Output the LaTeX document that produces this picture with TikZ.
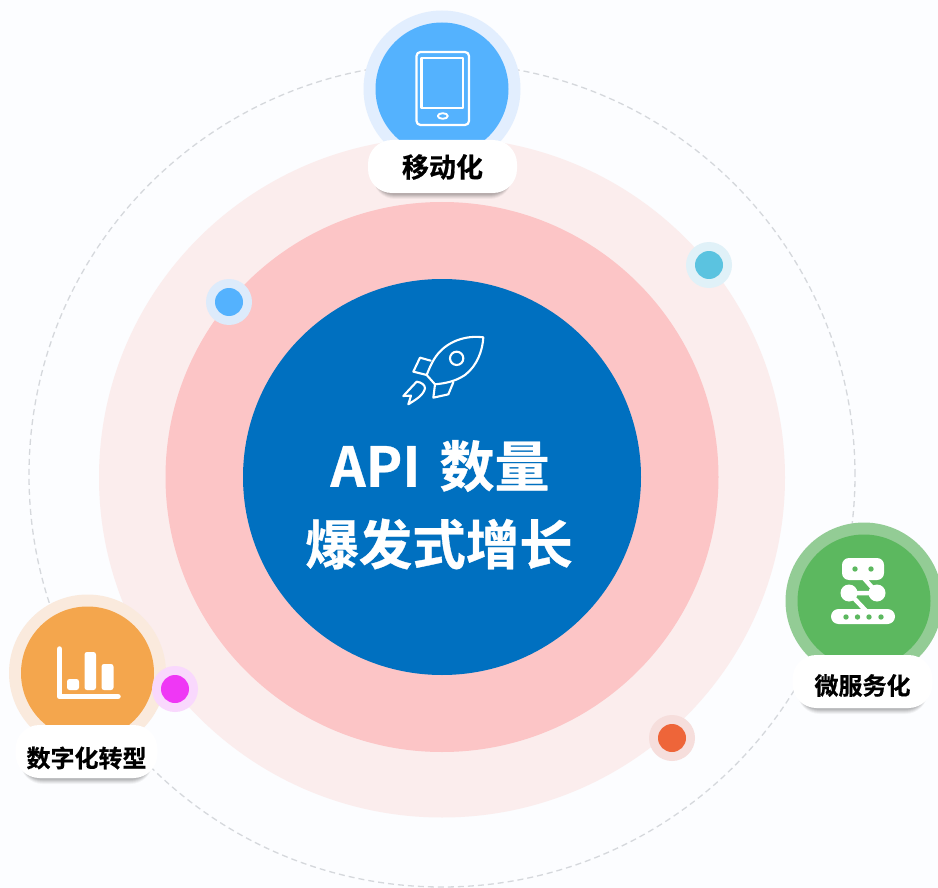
\documentclass[tikz,border=0pt]{standalone}
\usepackage{fontspec}
\usetikzlibrary{shapes.geometric}
\newfontfamily\cjkb[FakeBold=0.6]{Noto Sans CJK SC Bold}
\definecolor{bgc}{HTML}{FCFDFF}
\definecolor{ringa}{HTML}{FBEDED}
\definecolor{ringb}{HTML}{FCC5C6}
\definecolor{core}{HTML}{0070C0}
\definecolor{dashc}{HTML}{D5D8DC}
\definecolor{blueA}{HTML}{54B2FE}
\definecolor{blueB}{HTML}{E2EEFE}
\definecolor{greenA}{HTML}{5CB85F}
\definecolor{greenB}{HTML}{93CC95}
\definecolor{oranA}{HTML}{F4A64D}
\definecolor{oranB}{HTML}{FAEADD}
\definecolor{cyanA}{HTML}{5BC3E0}
\definecolor{cyanB}{HTML}{E0F1F8}
\definecolor{magA}{HTML}{EF37F5}
\definecolor{magB}{HTML}{F9D8FD}
\definecolor{redA}{HTML}{EE6539}
\definecolor{redB}{HTML}{F6DEDC}
\definecolor{dotB}{HTML}{DDEBFB}
\tikzset{
  disc/.style={circle,inner sep=0pt,outer sep=0pt,draw=none},
  oval/.style={ellipse,inner sep=0pt,outer sep=0pt,draw=none},
  pill/.style={rounded corners=24pt,minimum height=53pt,inner sep=0pt,outer sep=0pt,
     fill=white,text=black,font=\cjkb\fontsize{24}{28}\selectfont},
  ico/.style={draw=white,line width=1.9pt,line join=round,line cap=round},
}
% name, cx, cy, w, text, fontsize, text y-offset
\newcommand{\softpill}[7]{%
  \foreach \d/\o in {6/.04,5/.05,4/.06,3/.07,2/.07}{
    \fill[black,opacity=\o,rounded corners=22pt]
      ({#2-#4/2+5},{#3-26.5+\d}) rectangle ({#2+#4/2-5},{#3+26.5+\d});}
  \node[pill,minimum width=#4 pt] (#1) at (#2,#3) {};
  \node[inner sep=0pt,text=black,font=\cjkb\fontsize{#6}{#6}\selectfont] (#1t) at (#2,#3+#7) {#5};
}
\begin{document}
\begin{tikzpicture}[x=1pt,y=-1pt]
\useasboundingbox (0,0) rectangle (938,888);
\fill[bgc] (0,0) rectangle (938,888);
% dashed orbit
\node[oval,draw=dashc,line width=1.3pt,dash pattern=on 6pt off 4pt,minimum width=826pt,minimum height=824pt] (orbit) at (442,475) {};
% rings
\node[oval,fill=ringa,minimum width=686pt,minimum height=680pt] (ringouter) at (442,477.5) {};
\node[oval,fill=ringb,minimum width=553pt,minimum height=550pt] (ringmid) at (442,477) {};
\node[oval,fill=core,minimum width=398pt,minimum height=396pt] (corec) at (442,477) {};
% centre text
\node[text=white,font=\cjkb\fontsize{55}{55}\selectfont,inner sep=0pt] (t1) at (440,466) {API\hspace{19pt}数量};
\node[text=white,font=\cjkb\fontsize{53.5}{53.5}\selectfont,inner sep=0pt] (t2) at (439,544) {爆发式增长};
% rocket
\begin{scope}[shift={(390,325)},x=0.3333pt,y=-0.3333pt,ico,line width=2.1pt]
  \draw (280,37) .. controls (225,30) and (175,50) .. (145,85) .. controls (128,105) and (118,130) .. (110,150) -- (135,178) .. controls (165,175) and (195,170) .. (225,150) .. controls (262,122) and (278,75) .. (280,37) -- cycle;
  \draw (200,100) circle (20);
  \draw (122,107) -- (90,98) -- (70,140) -- (110,150);
  \draw (135,178) -- (130,218) -- (175,208) -- (190,172);
  \draw (80,170) .. controls (95,172) and (105,180) .. (105,190) .. controls (100,212) and (75,225) .. (55,238) -- (63,212) -- (40,213) -- cycle;
\end{scope}
% top node
\node[disc,fill=blueB,minimum size=157pt] (topout) at (442,89) {};
\node[disc,fill=blueA,minimum size=133pt] (topin) at (442,89) {};
\begin{scope}[ico,line width=2.2pt]
  \draw[rounded corners=4pt] (416.5,52) rectangle (469,125);
  \draw (421.5,58) rectangle (463,108);
  \draw[line width=1.9pt] (442.8,116) ellipse (5 and 2.8);
\end{scope}
\softpill{toplab}{442.5}{166.5}{149}{移动化}{27}{0.5}
% right node
\node[disc,fill=greenB,minimum size=157pt] (rightout) at (864,601) {};
\node[disc,fill=greenA,minimum size=133pt] (rightin) at (864,601) {};
\fill[white,rounded corners=7pt] (842,558) rectangle (884,580);
\fill[greenA] (855,569) circle (2.7) (871,569) circle (2.7);
\draw[white,line width=4.5pt] (862,576) -- (877,593) -- (849,593) -- (869,614);
\fill[white] (849,593) circle (8.5) (877,593) circle (8.5);
\fill[white,rounded corners=7.5pt] (831,609) rectangle (895,624);
\fill[greenA] (846,617) circle (2.7) (857.5,617) circle (2.7) (869,617) circle (2.7) (881,617) circle (2.7);
\softpill{rightlab}{862.5}{681.5}{140}{微服务化}{24}{4}
% left node
\node[disc,fill=oranB,minimum size=157pt] (leftout) at (87.5,673) {};
\node[disc,fill=oranA,minimum size=133pt] (leftin) at (87.5,673) {};
\draw[white,line width=5.5pt,line cap=round,line join=round] (59.5,649) -- (59.5,696.5) -- (118,696.5);
\fill[white,rounded corners=2.5pt] (67,679) rectangle (79,690);
\fill[white,rounded corners=2.5pt] (84.5,652) rectangle (96,690);
\fill[white,rounded corners=2.5pt] (101.5,664) rectangle (113.5,690);
\softpill{leftlab}{86.5}{751.5}{142}{数字化转型}{24}{6.5}
% small dots
\node[disc,fill=dotB,minimum size=46pt] (d1o) at (229,302) {};
\node[disc,fill=blueA,minimum size=28pt] (d1i) at (229,302) {};
\node[disc,fill=cyanB,minimum size=46pt] (d2o) at (709,265) {};
\node[disc,fill=cyanA,minimum size=28pt] (d2i) at (709,265) {};
\node[disc,fill=magB,minimum size=46pt] (d3o) at (175,689) {};
\node[disc,fill=magA,minimum size=28pt] (d3i) at (175,689) {};
\node[disc,fill=redB,minimum size=46pt] (d4o) at (672,738) {};
\node[disc,fill=redA,minimum size=28pt] (d4i) at (672,738) {};
\end{tikzpicture}
\end{document}
